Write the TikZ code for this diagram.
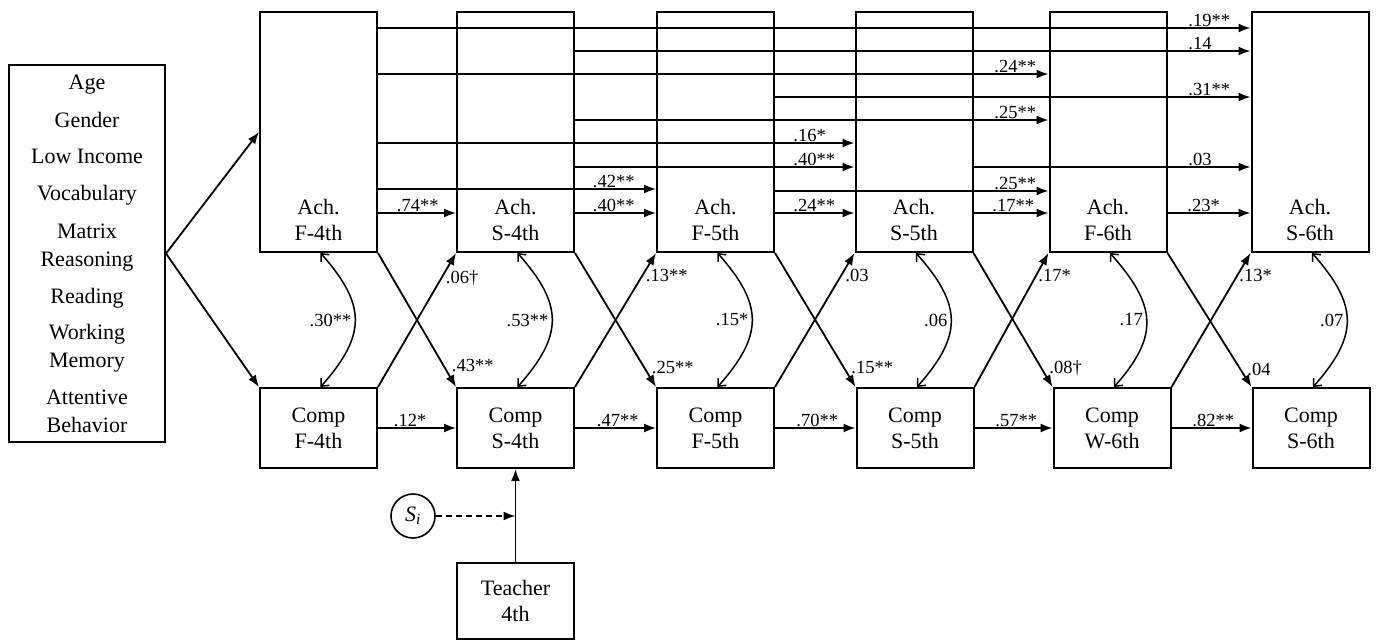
\documentclass[tikz,border=0pt]{standalone}
\usepackage{fontspec}
\setmainfont{Liberation Serif}
\usetikzlibrary{arrows.meta,calc}
\newcommand\lagarrow[6]{%
  \draw[arr] ([yshift=-#3pt]#1.north east) -- ([yshift=-#3pt]#2.north west)
    node[lbl,pos=1,anchor=base west,xshift=-#5pt,yshift=2pt] (#6) {#4};}
\begin{document}
\begin{tikzpicture}[x=1pt,y=-1pt,
  box/.style={draw,line width=2pt,inner sep=0pt,minimum width=117pt},
  achbox/.style={box,minimum height=240pt},
  compbox/.style={box,minimum height=80pt,align=center,font=\fontsize{22}{26}\selectfont},
  ntext/.style={align=center,font=\fontsize{22}{26}\selectfont,inner sep=0pt},
  arr/.style={line width=1.8pt,-{Latex[length=12pt,width=9pt]}},
  corr/.style={line width=1.5pt,{Straight Barb[length=6pt,width=11pt]}-{Straight Barb[length=6pt,width=11pt]}},
  lbl/.style={font=\fontsize{18.5}{20}\selectfont,inner sep=0pt},
]
\useasboundingbox (0,0) rectangle (1378,641);

% covariates
\node[draw,line width=2pt,minimum width=156pt,minimum height=377pt,inner sep=0pt,
  align=center,font=\fontsize{22}{28}\selectfont] (cov) at (87,253.5)
  {Age\\[10pt]Gender\\[8pt]Low Income\\[9pt]Vocabulary\\[10pt]Matrix\\Reasoning\\[9pt]Reading\\[8pt]Working\\Memory\\[9pt]Attentive\\Behavior};

% achievement boxes
\node[achbox] (a1) at (318.5,132) {};
\node[achbox] (a2) at (515.5,132) {};
\node[achbox] (a3) at (715.5,132) {};
\node[achbox] (a4) at (914,132) {};
\node[achbox] (a5) at (1108,132) {};
\node[achbox] (a6) at (1310,132) {};
\node[ntext] (a1t) at (318.5,220) {Ach.\\F-4th};
\node[ntext] (a2t) at (515.5,220) {Ach.\\S-4th};
\node[ntext] (a3t) at (715.5,220) {Ach.\\F-5th};
\node[ntext] (a4t) at (914,220) {Ach.\\S-5th};
\node[ntext] (a5t) at (1108,220) {Ach.\\F-6th};
\node[ntext] (a6t) at (1310,220) {Ach.\\S-6th};

% comprehension boxes
\node[compbox] (c1) at (318.5,428) {Comp\\F-4th};
\node[compbox] (c2) at (515.5,428) {Comp\\S-4th};
\node[compbox] (c3) at (715.5,428) {Comp\\F-5th};
\node[compbox] (c4) at (915,428) {Comp\\S-5th};
\node[compbox] (c5) at (1112,428) {Comp\\W-6th};
\node[compbox] (c6) at (1311,428) {Comp\\S-6th};

% teacher and S_i
\node[compbox,minimum height=76pt] (t4) at (515.5,601) {Teacher\\4th};
\node[draw,circle,minimum size=44pt,line width=1.6pt,inner sep=0pt,
  font=\fontsize{22}{26}\selectfont] (si) at (413,516) {\textit{S}\textsubscript{\textit{i}}};
\coordinate (sij) at (515.5,516);

% covariate paths
\draw[arr] (cov.east) -- (a1.west);
\draw[arr] (cov.east) -- (c1.north west);

% lagged achievement paths
\lagarrow{a1}{a6}{17}{.19**}{63}{l1}
\lagarrow{a2}{a6}{40}{.14}{63}{l2}
\lagarrow{a1}{a5}{63}{.24**}{55}{l3}
\lagarrow{a3}{a6}{86}{.31**}{63}{l4}
\lagarrow{a2}{a5}{109}{.25**}{55}{l5}
\lagarrow{a1}{a4}{132}{.16*}{62}{l6}
\lagarrow{a2}{a4}{156}{.40**}{62}{l7}
\lagarrow{a4}{a6}{156}{.03}{63}{l8}
\lagarrow{a1}{a3}{178}{.42**}{64}{l9}
\lagarrow{a3}{a5}{180}{.25**}{55}{l10}
\lagarrow{a1}{a2}{202}{.74**}{60}{l11}
\lagarrow{a2}{a3}{202}{.40**}{64}{l12}
\lagarrow{a3}{a4}{202}{.24**}{62}{l13}
\lagarrow{a4}{a5}{202}{.17**}{57}{l14}
\lagarrow{a5}{a6}{202}{.23*}{64}{l15}

% comprehension autoregressive paths
\draw[arr] (c1.east) -- (c2.west) node[lbl,pos=1,anchor=base west,xshift=-63pt,yshift=2pt] (m1) {.12*};
\draw[arr] (c2.east) -- (c3.west) node[lbl,pos=1,anchor=base west,xshift=-60pt,yshift=2pt] (m2) {.47**};
\draw[arr] (c3.east) -- (c4.west) node[lbl,pos=1,anchor=base west,xshift=-60pt,yshift=2pt] (m3) {.70**};
\draw[arr] (c4.east) -- (c5.west) node[lbl,pos=1,anchor=base west,xshift=-58pt,yshift=2pt] (m4) {.57**};
\draw[arr] (c5.east) -- (c6.west) node[lbl,pos=1,anchor=base west,xshift=-60pt,yshift=2pt] (m5) {.82**};

% cross-lagged paths: comp -> ach (up)
\draw[arr] (c1.north east) -- (a2.south west) node[lbl,pos=1,anchor=base west,xshift=-11pt,yshift=-30pt] (u1) {.06\textdagger};
\draw[arr] (c2.north east) -- (a3.south west) node[lbl,pos=1,anchor=base west,xshift=-11pt,yshift=-28pt] (u2) {.13**};
\draw[arr] (c3.north east) -- (a4.south west) node[lbl,pos=1,anchor=base west,xshift=-10pt,yshift=-28pt] (u3) {.03};
\draw[arr] (c4.north east) -- (a5.south west) node[lbl,pos=1,anchor=base west,xshift=-11pt,yshift=-28pt] (u4) {.17*};
\draw[arr] (c5.north east) -- (a6.south west) node[lbl,pos=1,anchor=base west,xshift=-12pt,yshift=-28pt] (u5) {.13*};
% ach -> comp (down)
\draw[arr] (a1.south east) -- (c2.north west) node[lbl,pos=1,anchor=base west,xshift=-5pt,yshift=16pt] (d1) {.43**};
\draw[arr] (a2.south east) -- (c3.north west) node[lbl,pos=1,anchor=base west,xshift=-5pt,yshift=14pt] (d2) {.25**};
\draw[arr] (a3.south east) -- (c4.north west) node[lbl,pos=1,anchor=base west,xshift=-5pt,yshift=14pt] (d3) {.15**};
\draw[arr] (a4.south east) -- (c5.north west) node[lbl,pos=1,anchor=base west,xshift=-4pt,yshift=14pt] (d4) {.08\textdagger};
\draw[arr] (a5.south east) -- (c6.north west) node[lbl,pos=1,anchor=base west,xshift=-5pt,yshift=12pt] (d5) {.04};

% concurrent correlations
\foreach \i/\l in {1/.30**,2/.53**,3/.15*,4/.06,5/.17,6/.07}{
  \draw[corr] ([xshift=2pt]a\i.south) .. controls +(46,52) and +(46,-52) .. ([xshift=2pt]c\i.north)
    node[lbl,pos=0.5,anchor=east,xshift=-3pt] (r\i) {\l};
}

% teacher
\draw[arr] (t4.north) -- (c2.south);
\draw[arr,dash pattern=on 6pt off 4pt] (si.east) -- (sij);
\end{tikzpicture}
\end{document}
